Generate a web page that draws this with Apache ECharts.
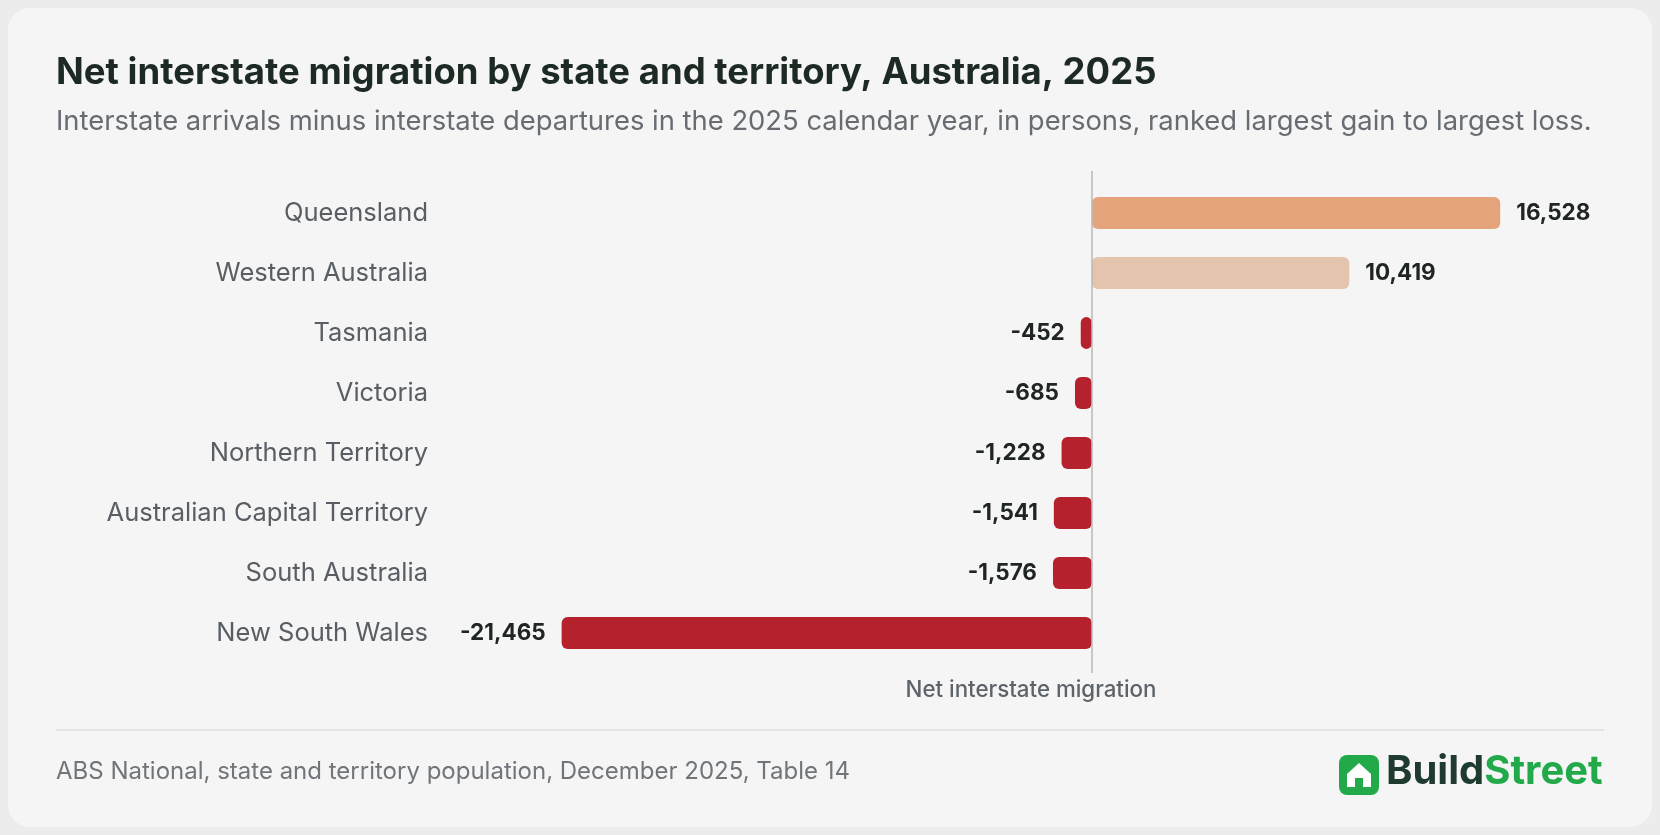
<!DOCTYPE html>
<html><head><meta charset="utf-8">
<script src="https://cdn.jsdelivr.net/npm/echarts@6/dist/echarts.min.js"></script>
<style>html,body{margin:0;padding:0;background:#ececec;}#c{width:1660px;height:835px;}</style>
</head><body><div id="c"></div>
<script>
const categories = ["Queensland","Western Australia","Tasmania","Victoria","Northern Territory","Australian Capital Territory","South Australia","New South Wales"];
const values = [16528,10419,-452,-685,-1228,-1541,-1576,-21465];
const barColors = ["#e5a47c","#e5c4ad","#b5222e","#b5222e","#b5222e","#b5222e","#b5222e","#b5222e"];
const chart = echarts.init(document.getElementById('c'));
const F = 'Inter, "Noto Sans", sans-serif';
chart.setOption({
  backgroundColor:'#ececec',
  textStyle:{fontFamily:F},
  graphic:[
    {type:'rect',shape:{x:8,y:8,width:1644,height:819,r:22},style:{fill:'#f5f5f5'},z:-10},
    {type:'text',left:56,top:55,style:{text:'Net interstate migration by state and territory, Australia, 2025',font:'bold 36.5px '+F,fill:'#1d2a24'}},
    {type:'text',left:56,top:108,style:{text:'Interstate arrivals minus interstate departures in the 2025 calendar year, in persons, ranked largest gain to largest loss.',font:'27.4px '+F,fill:'#666c72'}},
    {type:'line',shape:{x1:56,y1:730,x2:1604,y2:730},style:{stroke:'#dcdcdc',lineWidth:1.5}},
    {type:'line',shape:{x1:1092,y1:171,x2:1092,y2:673},style:{stroke:'#b8b8b8',lineWidth:1.5},z:10},
    {type:'text',left:56,top:760,style:{text:'ABS National, state and territory population, December 2025, Table 14',font:'24px '+F,fill:'#70757a'}},
    {type:'rect',shape:{x:1339,y:755,width:40,height:40,r:8},style:{fill:'#22a94a'}},
    {type:'polygon',shape:{points:[[1359,763],[1371,774],[1371,787],[1347,787],[1347,774]]},style:{fill:'#fff'}},
    {type:'rect',shape:{x:1355,y:778,width:8,height:9},style:{fill:'#22a94a'}},
    {type:'text',left:1386,top:752,style:{rich:{a:{font:'bold 40px '+F,fill:'#1f3a2e'},b:{font:'bold 40px '+F,fill:'#22a94a'}},text:'{a|Build}{b|Street}'}}
  ],
  grid:{left:499,right:74,top:183,bottom:172},
  xAxis:{type:'value',min:-24000,max:20000,show:true,axisLabel:{show:false},axisTick:{show:false},axisLine:{show:false},splitLine:{show:false},
    name:'Net interstate migration',nameLocation:'middle',nameGap:16,nameTextStyle:{fontSize:22.3,fontWeight:500,color:'#5d6369',padding:[0,0,0,-23]}},
  yAxis:{type:'category',inverse:true,data:categories,axisLine:{show:false},axisTick:{show:false},
    axisLabel:{fontSize:25.5,color:'#585e64',margin:71}},
  series:[{type:'bar',barWidth:32,
    data:values.map((v,i)=>({value:v,itemStyle:{color:barColors[i],borderRadius:6},
      label:{show:true,position:v>=0?'right':'left',distance:16,formatter:p=>p.value.toLocaleString('en-US'),fontSize:22.5,fontWeight:'bold',color:'#1f2522'}}))}]
});
</script></body></html>
